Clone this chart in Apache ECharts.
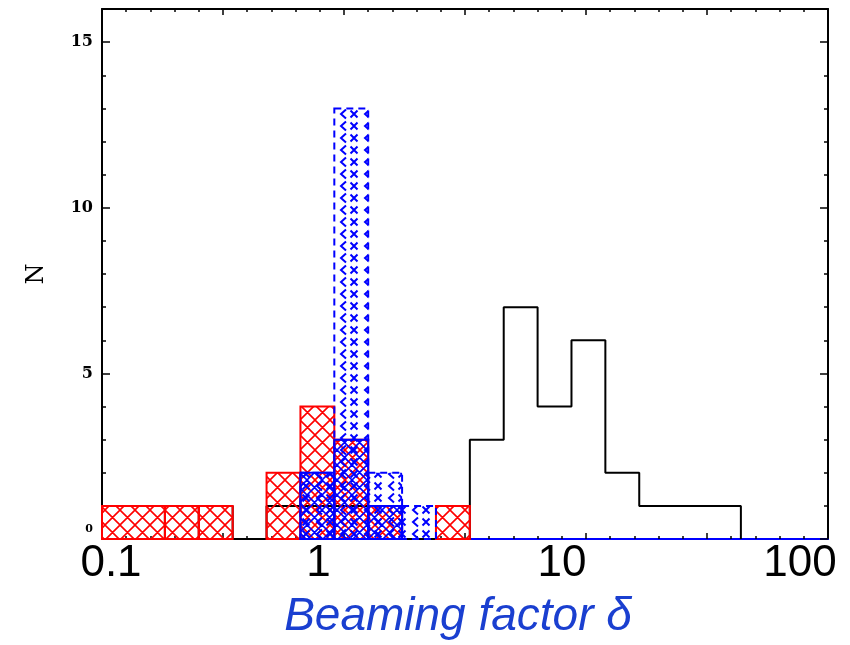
<!DOCTYPE html>
<html><head><meta charset="utf-8">
<script src="https://cdn.jsdelivr.net/npm/echarts@6/dist/echarts.min.js"></script>
<style>html,body{margin:0;padding:0;background:#fff}#c{width:850px;height:645px}</style>
</head><body><div id="c"></div>
<script>
// Histogram bin edges, in log10(delta)
const binEdgesLog10 = [-1.16, -0.74, -0.60, -0.46, -0.32, -0.18, -0.04, 0.10, 0.24, 0.38, 0.52, 0.66, 0.80, 0.94, 1.08, 1.22, 1.36, 1.50, 1.64];
// Counts per bin
const redCounts        = [1, 1, 1, 0, 2, 4, 3, 1, 0, 1, 0, 0, 0, 0, 0, 0, 0, 0];
const blueSolidCounts  = [0, 0, 0, 0, 0, 2, 3, 1, 0, 0, 0, 0, 0, 0, 0, 0, 0, 0];
const blueDashedCounts = [0, 0, 0, 0, 0, 2, 13, 2, 1, 0, 0, 0, 0, 0, 0, 0, 0, 0];
const blackCounts      = [1, 0, 1, 0, 1, 1, 1, 0, 0, 0, 3, 7, 4, 6, 2, 1, 1, 1];
// Tick labels
const xTickValues = [-1, 0, 1, 2];
const xTickTexts  = ['0.1', '1', '10', '100'];
const yTickValues = [0, 5, 10, 15];

function crossHatch(color, T, lw, off) {
  const c = document.createElement('canvas'); c.width = c.height = T;
  const g = c.getContext('2d'); g.strokeStyle = color; g.lineWidth = lw;
  g.beginPath();
  for (let d = -2 * T; d <= 2 * T; d += T) {
    g.moveTo(d + off, 0); g.lineTo(d + off + T, T);
    g.moveTo(d + off, T); g.lineTo(d + off + T, 0);
  }
  g.stroke();
  return { image: c, repeat: 'repeat' };
}
function dashedHatch(color, lw) {
  const c = document.createElement('canvas'); c.width = 24; c.height = 12;
  const g = c.getContext('2d'); g.strokeStyle = color; g.lineWidth = lw;
  g.beginPath();
  g.moveTo(10, 1.5); g.lineTo(5, 6); g.lineTo(10, 10.5);
  g.moveTo(14.5, 2.5); g.lineTo(21.5, 9.5);
  g.moveTo(14.5, 9.5); g.lineTo(21.5, 2.5);
  g.stroke();
  return { image: c, repeat: 'repeat' };
}
const redPat = crossHatch('#ff0000', 15, 1.6, 0);
const bluePat = crossHatch('#0000ff', 15, 1.6, 7);
const blueDashPat = dashedHatch('#0000ff', 2);

const histData = counts => counts.map((n, j) => [binEdgesLog10[j], binEdgesLog10[j + 1], n]);

function histRenderer(fill, stroke, dash) {
  return function (params, api) {
    const lo = api.value(0), hi = api.value(1), n = api.value(2);
    if (!n) return null;
    const p0 = api.coord([lo, n]), p1 = api.coord([hi, 0]);
    const cs = params.coordSys;
    const shape = echarts.graphic.clipRectByRect(
      { x: p0[0], y: p0[1], width: p1[0] - p0[0], height: p1[1] - p0[1] },
      { x: cs.x, y: cs.y, width: cs.width, height: cs.height });
    if (!shape) return null;
    return { type: 'rect', shape: shape,
      style: { fill: fill, stroke: stroke, lineWidth: 2, lineDash: dash || null } };
  };
}

const chart = echarts.init(document.getElementById('c'), null, { renderer: 'canvas' });
const xLabelRich = {
  a: { fontSize: 44, lineHeight: 44, fontFamily: 'Liberation Sans', color: '#000', padding: [0, 0, 0, 18] },
  b: { fontSize: 44, lineHeight: 44, fontFamily: 'Liberation Sans', color: '#000', padding: [0, 51, 0, 0] },
  c: { fontSize: 44, lineHeight: 44, fontFamily: 'Liberation Sans', color: '#000', padding: [0, 48, 0, 0] },
  d: { fontSize: 44, lineHeight: 44, fontFamily: 'Liberation Sans', color: '#000', padding: [0, 56, 0, 0] }
};
const xKeys = ['a', 'b', 'c', 'd'];
const axisCommonX = {
  type: 'value', min: -1, max: 2, interval: 0.5,
  splitLine: { show: false }, minorSplitLine: { show: false },
  axisTick: { show: true, inside: true, length: 6, lineStyle: { color: '#000', width: 1.5 } },
  minorTick: { show: true, splitNumber: 5, length: 3, lineStyle: { color: '#000', width: 1.5 } }
};
const axisCommonY = {
  type: 'value', min: 0, max: 16, interval: 5,
  splitLine: { show: false }, minorSplitLine: { show: false },
  axisTick: { show: true, inside: true, length: 8, lineStyle: { color: '#000', width: 1.5 } },
  minorTick: { show: true, splitNumber: 5, length: 4, lineStyle: { color: '#000', width: 1.5 } }
};

chart.setOption({
  animation: false,
  backgroundColor: '#fff',
  grid: { left: 102, right: 22, top: 9, bottom: 106, containLabel: false, outerBoundsMode: 'none' },
  xAxis: [
    Object.assign({}, axisCommonX, {
      position: 'bottom',
      axisLine: { show: true, onZero: false, lineStyle: { color: '#0000ff', width: 2 } },
      axisLabel: {
        show: true, margin: 3,
        formatter: v => {
          const i = xTickValues.findIndex(t => Math.abs(t - v) < 1e-6);
          return i < 0 ? '' : '{' + xKeys[i] + '|' + xTickTexts[i] + '}';
        },
        rich: xLabelRich
      },
      name: 'Beaming factor δ', nameLocation: 'middle', nameGap: 55,
      nameTextStyle: { fontFamily: 'Liberation Sans', fontStyle: 'italic', fontSize: 46, color: '#1a3fd0', padding: [0, 14, 0, 0] }
    }),
    Object.assign({}, axisCommonX, {
      position: 'top',
      axisLine: { show: true, onZero: false, lineStyle: { color: '#000', width: 2 } },
      axisLabel: { show: false }
    })
  ],
  yAxis: [
    Object.assign({}, axisCommonY, {
      position: 'left',
      axisLine: { show: true, onZero: false, lineStyle: { color: '#000', width: 2 } },
      axisLabel: {
        show: true, margin: 9,
        fontFamily: 'DejaVu Serif', fontWeight: 'bold', fontSize: 16, color: '#000',
        formatter: v => {
          if (!yTickValues.includes(v)) return '';
          return v === 0 ? '{z|0}' : String(v);
        },
        rich: { z: { fontFamily: 'DejaVu Serif', fontWeight: 'bold', fontSize: 11, color: '#000', padding: [0, 0, 20, 0] } }
      },
      name: 'N', nameLocation: 'middle', nameRotate: 90, nameGap: 53,
      nameTextStyle: { fontFamily: 'DejaVu Serif', fontSize: 24, color: '#000' }
    }),
    Object.assign({}, axisCommonY, {
      position: 'right',
      axisLine: { show: true, onZero: false, lineStyle: { color: '#000', width: 2 } },
      axisLabel: { show: false }
    })
  ],
  series: [
    { type: 'line', name: 'black', xAxisIndex: 0, yAxisIndex: 0, z: 1,
      step: 'end', symbol: 'none', clip: true,
      lineStyle: { color: '#000', width: 2 },
      data: binEdgesLog10.map((e, j) => [e, j < blackCounts.length ? blackCounts[j] : 0]) },
    { type: 'custom', name: 'red', xAxisIndex: 0, yAxisIndex: 0, z: 2,
      renderItem: histRenderer(redPat, '#ff0000'),
      encode: { x: [0, 1], y: 2 }, data: histData(redCounts) },
    { type: 'custom', name: 'blueSolid', xAxisIndex: 0, yAxisIndex: 0, z: 3,
      renderItem: histRenderer(bluePat, '#0000ff'),
      encode: { x: [0, 1], y: 2 }, data: histData(blueSolidCounts) },
    { type: 'custom', name: 'blueDashed', xAxisIndex: 0, yAxisIndex: 0, z: 4,
      renderItem: histRenderer(blueDashPat, '#0000ff', [7, 5]),
      encode: { x: [0, 1], y: 2 }, data: histData(blueDashedCounts) }
  ]
});
</script>
</body></html>
